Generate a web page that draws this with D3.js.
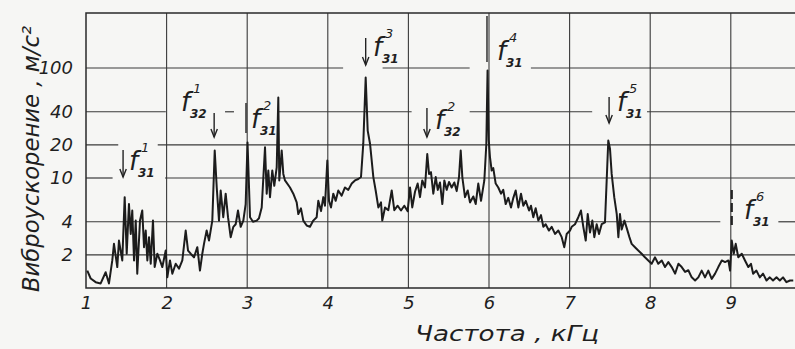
<!DOCTYPE html>
<html>
<head>
<meta charset="utf-8">
<script src="https://cdn.jsdelivr.net/npm/d3@7"></script>
<style>
  html, body { margin: 0; padding: 0; background: #f6f6f4; }
  svg { display: block; }
  text { font-family: "DejaVu Sans", sans-serif; font-style: italic; fill: #1f1f1f; }
</style>
</head>
<body>
<div id="chart"></div>
<script>
// spectrum: frequency, kHz
const freq = [
  1.016, 1.058, 1.120, 1.182, 1.244, 1.285, 1.326, 1.347, 1.388, 1.409,
  1.450, 1.480, 1.505, 1.533, 1.555, 1.574, 1.596, 1.617, 1.636, 1.670,
  1.698, 1.720, 1.741, 1.761, 1.782, 1.803, 1.831, 1.852, 1.885, 1.918,
  1.947, 1.989, 2.009, 2.042, 2.071, 2.113, 2.154, 2.195, 2.237, 2.266,
  2.299, 2.340, 2.381, 2.414, 2.443, 2.464, 2.497, 2.526, 2.567, 2.597,
  2.622, 2.650, 2.671, 2.703, 2.733, 2.762, 2.795, 2.828, 2.857, 2.886,
  2.919, 2.952, 2.981, 3.004, 3.035, 3.072, 3.118, 3.146, 3.180, 3.221,
  3.242, 3.262, 3.283, 3.311, 3.336, 3.366, 3.386, 3.398, 3.428, 3.448,
  3.469, 3.531, 3.572, 3.614, 3.634, 3.667, 3.696, 3.738, 3.779, 3.820,
  3.862, 3.882, 3.916, 3.944, 3.965, 3.994, 4.015, 4.040, 4.068, 4.098,
  4.130, 4.172, 4.213, 4.254, 4.297, 4.337, 4.378, 4.412, 4.440, 4.470,
  4.495, 4.524, 4.565, 4.594, 4.627, 4.660, 4.676, 4.710, 4.751, 4.793,
  4.825, 4.867, 4.908, 4.949, 4.991, 5.020, 5.048, 5.082, 5.115, 5.144,
  5.172, 5.206, 5.234, 5.256, 5.280, 5.309, 5.339, 5.364, 5.392, 5.421,
  5.446, 5.475, 5.504, 5.537, 5.570, 5.599, 5.628, 5.649, 5.669, 5.702,
  5.736, 5.764, 5.805, 5.835, 5.867, 5.901, 5.942, 5.967, 5.982, 5.997,
  6.012, 6.033, 6.053, 6.083, 6.115, 6.149, 6.177, 6.207, 6.239, 6.273,
  6.302, 6.331, 6.364, 6.397, 6.426, 6.456, 6.497, 6.521, 6.550, 6.579,
  6.612, 6.645, 6.674, 6.703, 6.743, 6.778, 6.819, 6.860, 6.902, 6.934,
  6.964, 7.005, 7.026, 7.067, 7.108, 7.141, 7.170, 7.200, 7.225, 7.253,
  7.282, 7.307, 7.336, 7.365, 7.398, 7.439, 7.460, 7.480, 7.501, 7.522,
  7.554, 7.585, 7.605, 7.625, 7.646, 7.680, 7.709, 7.742, 7.770, 7.811,
  7.852, 7.894, 7.935, 7.976, 8.018, 8.060, 8.100, 8.143, 8.184, 8.225,
  8.267, 8.309, 8.350, 8.391, 8.433, 8.473, 8.515, 8.557, 8.597, 8.639,
  8.680, 8.721, 8.763, 8.805, 8.845, 8.888, 8.929, 8.970, 8.991, 9.012,
  9.036, 9.061, 9.093, 9.136, 9.176, 9.217, 9.250, 9.277, 9.318, 9.360,
  9.400, 9.443, 9.484, 9.524, 9.567, 9.608, 9.648, 9.690, 9.734, 9.775
]
// vibration acceleration, m/s2
const accel = [
  1.44, 1.22, 1.13, 1.10, 1.39, 1.10, 1.78, 2.52, 1.55, 2.70,
  1.78, 6.7, 2.05, 5.8, 3.1, 5.06, 1.78, 4.1, 1.35, 4.1,
  5.06, 2.35, 3.33, 1.78, 2.9, 1.66, 4.1, 1.55, 2.05, 1.78,
  1.55, 2.19, 1.25, 1.78, 1.35, 1.66, 1.5, 1.78, 3.33, 2.19,
  2.05, 1.9, 2.35, 1.44, 2.05, 2.52, 3.33, 2.7, 4.1, 17.8,
  8.2, 4.1, 7.7, 4.4, 7.2, 4.4, 2.9, 3.6, 3.8, 5.06,
  3.6, 4.1, 5.8, 21, 4.4, 4.0, 4.1, 4.3, 5.4, 19.0,
  7.2, 11.7, 6.7, 11.7, 8.5, 12.5, 54, 9.5, 17.8, 10.9,
  9.5, 8.2, 7.2, 6.0, 4.7, 5.3, 4.1, 3.7, 3.6, 4.1,
  4.4, 6.2, 5.0, 6.7, 5.6, 14.4, 6.2, 5.4, 7.2, 6.2,
  7.7, 6.9, 8.2, 7.8, 8.9, 9.5, 9.8, 10.2, 20.4, 82,
  27, 20.5, 10.2, 7.7, 5.4, 6.0, 4.1, 5.4, 5.1, 7.7,
  5.1, 5.6, 5.06, 5.6, 5.0, 8.2, 5.4, 7.5, 8.9, 6.7,
  9.5, 8.2, 16.5, 10.9, 11.3, 7.2, 10.2, 7.8, 9.1, 5.8,
  9.5, 7.8, 9.2, 8.2, 9.1, 7.6, 10.2, 17.8, 10.2, 6.7,
  7.7, 6.0, 6.8, 5.8, 8.9, 6.2, 9.5, 20.4, 95, 22,
  15.5, 11.7, 12.3, 8.9, 8.2, 7.2, 7.8, 5.8, 6.6, 5.4,
  6.6, 7.7, 5.4, 7.2, 5.6, 6.2, 5.06, 5.6, 4.4, 5.3,
  4.1, 4.6, 3.6, 3.8, 3.33, 3.6, 3.1, 3.33, 2.9, 2.35,
  3.1, 3.33, 3.6, 3.8, 4.4, 5.06, 3.6, 2.7, 4.7, 3.2,
  4.1, 2.9, 3.8, 3.1, 3.8, 3.95, 9.5, 21.9, 18.5, 10.9,
  6.7, 4.7, 2.9, 4.7, 3.4, 4.1, 3.5, 2.9, 2.52, 2.35,
  2.19, 2.05, 1.9, 1.78, 1.66, 1.9, 1.66, 1.78, 1.55, 1.72,
  1.55, 1.35, 1.66, 1.55, 1.4, 1.45, 1.25, 1.17, 1.25, 1.44,
  1.25, 1.44, 1.21, 1.35, 1.55, 1.78, 1.72, 1.78, 1.44, 2.7,
  2.05, 2.52, 1.9, 2.05, 1.78, 1.55, 1.66, 1.35, 1.44, 1.25,
  1.35, 1.17, 1.25, 1.17, 1.25, 1.17, 1.25, 1.13, 1.17, 1.17
]
const xTicks = [1, 2, 3, 4, 5, 6, 7, 8, 9]
const yTicks = [2, 4, 10, 20, 40, 100]
// breaks in the hand-drawn horizontal rules (kHz), left open for the notes
const gridBreaks = {
  100: [[4.19, 4.68], [5.76, 6.52]],
  40: [[1.99, 2.725], [2.836, 3.37], [5.04, 5.76], [7.28, 7.96]],
  20: [[1.40, 1.89]],
  10: [[1.33, 1.98]],
  4: [[8.87, 9.59]],
  2: []
}

const width = 795, height = 349

let svg = d3.select('#chart').append('svg')
  .attr('width', width)
  .attr('height', height)

svg.append('rect').attr('width', width).attr('height', height).attr('fill', '#f6f6f4')

let x = d3.scaleLinear().domain([1, 1 + 709 / 80.6]).range([86, 795])
let y = d3.scaleLog().domain([1, Math.pow(10, 2.5)]).range([288, 13])

let grid = svg.append('g').attr('stroke', '#3a3a3a').attr('fill', 'none')

// horizontal rules, with their gaps
yTicks.forEach(function (v) {
  let from = x.domain()[0]
  let pieces = []
  gridBreaks[v].forEach(function (b) {
    pieces.push([from, b[0]])
    from = b[1]
  })
  pieces.push([from, x.domain()[1]])
  pieces.forEach(function (p) {
    grid.append('line')
      .attr('x1', x(p[0])).attr('x2', x(p[1]))
      .attr('y1', y(v)).attr('y2', y(v))
      .attr('stroke-width', 1.2)
  })
})

// vertical rules
xTicks.slice(1).forEach(function (f) {
  grid.append('line')
    .attr('x1', x(f)).attr('x2', x(f))
    .attr('y1', y.range()[1]).attr('y2', y.range()[0])
    .attr('stroke-width', 1.1)
})

// frame: top, left, bottom
grid.append('path')
  .attr('d', 'M' + x.range()[1] + ',' + y.range()[1] + 'H' + x.range()[0] + 'V' + y.range()[0] + 'H' + x.range()[1])
  .attr('stroke-width', 1.5)
  .attr('stroke', '#2a2a2a')

// axes: labels only
let xAxis = svg.append('g')
  .attr('transform', 'translate(0,' + y.range()[0] + ')')
  .call(d3.axisBottom(x).tickValues(xTicks).tickSize(0).tickPadding(8).tickFormat(d3.format('d')))
xAxis.select('.domain').remove()
xAxis.selectAll('text')
  .attr('font-size', 18)
  .attr('font-family', 'DejaVu Sans')
  .style('font-style', 'italic')
  .attr('fill', '#222')

let yAxis = svg.append('g')
  .attr('transform', 'translate(73,0)')
  .call(d3.axisLeft(y).tickValues(yTicks).tickSize(0).tickPadding(0).tickFormat(d3.format('d')))
yAxis.select('.domain').remove()
yAxis.selectAll('text')
  .attr('font-size', 18)
  .attr('font-family', 'DejaVu Sans')
  .style('font-style', 'italic')
  .attr('fill', '#222')

// axis titles
svg.append('text')
  .attr('x', 415).attr('y', 341)
  .attr('font-size', 22)
  .attr('textLength', 184)
  .attr('lengthAdjust', 'spacingAndGlyphs')
  .text('Частота , кГц')

svg.append('text')
  .attr('transform', 'translate(39,292) rotate(-90)')
  .attr('font-size', 23)
  .attr('textLength', 266)
  .attr('lengthAdjust', 'spacingAndGlyphs')
  .text('Виброускорение , м/с²')

// the spectrum
svg.append('clipPath').attr('id', 'plot')
  .append('rect').attr('x', 86).attr('y', 13).attr('width', 709).attr('height', 275)

let points = freq.map(function (f, i) { return [f, accel[i]] })
let line = d3.line()
  .x(function (d) { return x(d[0]) })
  .y(function (d) { return y(d[1]) })

svg.append('path')
  .datum(points)
  .attr('clip-path', 'url(#plot)')
  .attr('fill', 'none')
  .attr('stroke', '#1c1c1c')
  .attr('stroke-width', 2)
  .attr('stroke-linejoin', 'round')
  .attr('d', line)

// peak notes: harmonic, order, arrow frequency; the rest is hand placement in px
const notes = [
  { sup: '1', sub: '31', at: 1.46, y0: 150, y1: 177, head: true, fx: 129, fy: 170 },
  { sup: '1', sub: '32', at: 2.59, y0: 113, y1: 137, head: true, fx: 181, fy: 111 },
  { sup: '2', sub: '31', at: 2.985, y0: 103, y1: 133, head: false, fx: 251, fy: 128 },
  { sup: '3', sub: '31', at: 4.47, y0: 38, y1: 65, head: true, fx: 373, fy: 56 },
  { sup: '2', sub: '32', at: 5.23, y0: 108, y1: 137, head: true, fx: 435, fy: 129 },
  { sup: '4', sub: '31', at: 5.975, y0: 16, y1: 62, head: false, fx: 497, fy: 60 },
  { sup: '5', sub: '31', at: 7.49, y0: 97, y1: 123, head: true, fx: 617, fy: 111 },
  { sup: '6', sub: '31', at: 9.012, y0: 190, y1: 228, head: false, dash: true, fx: 744, fy: 219 }
]

let ann = svg.append('g')
notes.forEach(function (n) {
  let ax = x(n.at)
  ann.append('line')
    .attr('x1', ax).attr('x2', ax)
    .attr('y1', n.y0).attr('y2', n.y1)
    .attr('stroke', '#222')
    .attr('stroke-width', n.dash ? 2.2 : 1.4)
    .attr('stroke-dasharray', n.dash ? '9,4' : null)
  if (n.head) {
    ann.append('path')
      .attr('d', 'M' + (ax - 3.2) + ',' + (n.y1 - 8) + 'L' + ax + ',' + n.y1 + 'L' + (ax + 3.2) + ',' + (n.y1 - 8))
      .attr('fill', 'none')
      .attr('stroke', '#222')
      .attr('stroke-width', 1.4)
  }
  ann.append('text')
    .attr('x', n.fx).attr('y', n.fy)
    .attr('font-size', 26)
    .text('f')
  ann.append('text')
    .attr('x', n.fx + 12).attr('y', n.fy - 18)
    .attr('font-size', 13)
    .text(n.sup)
  ann.append('text')
    .attr('x', n.fx + 9).attr('y', n.fy + 7)
    .attr('font-size', 12)
    .attr('font-weight', 'bold')
    .text(n.sub)
})
</script>
</body>
</html>
